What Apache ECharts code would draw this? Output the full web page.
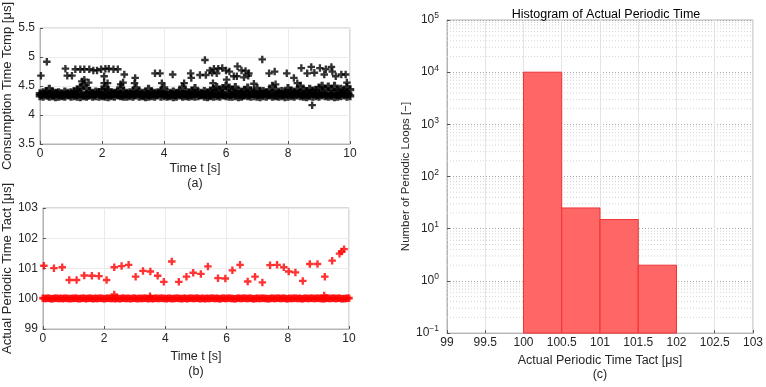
<!DOCTYPE html>
<html><head><meta charset="utf-8">
<script src="https://cdn.jsdelivr.net/npm/echarts@6.0.0/dist/echarts.min.js"></script>
<style>html,body{margin:0;padding:0;background:#fff}#c{width:766px;height:387px}</style>
</head><body><div id="c"></div>
<script>
// ---------- (a) Consumption time Tcmp [us] ----------
const bandStep = 0.1; // sampling step of the dense band rows [s]
const tcmpBandLow = [4.33,4.32,4.34,4.32,4.33,4.31,4.32,4.33,4.32,4.34, 4.32,4.33,4.32,4.31,4.33,4.32,4.34,4.32,4.33,4.32,
  4.33,4.32,4.31,4.33,4.32,4.34,4.33,4.32,4.32,4.33, 4.32,4.34,4.32,4.33,4.31,4.32,4.33,4.32,4.34,4.32,
  4.33,4.32,4.33,4.31,4.32,4.34,4.32,4.33,4.32,4.33, 4.32,4.33,4.34,4.32,4.31,4.33,4.32,4.33,4.32,4.34,
  4.33,4.32,4.32,4.33,4.31,4.32,4.34,4.33,4.32,4.33, 4.32,4.31,4.33,4.32,4.34,4.32,4.33,4.32,4.33,4.31,
  4.32,4.33,4.32,4.34,4.33,4.32,4.31,4.33,4.32,4.33, 4.32,4.34,4.33,4.32,4.33,4.31,4.32,4.33,4.34,4.32, 4.33];
const tcmpBandMid = [4.35,4.36,4.34,4.36,4.35,4.37,4.35,4.34,4.36,4.35, 4.36,4.35,4.37,4.36,4.35,4.34,4.36,4.35,4.37,4.35,
  4.34,4.36,4.35,4.36,4.37,4.35,4.34,4.36,4.35,4.36, 4.35,4.37,4.35,4.34,4.36,4.35,4.36,4.35,4.37,4.36,
  4.35,4.34,4.36,4.35,4.37,4.35,4.36,4.34,4.35,4.36, 4.37,4.35,4.36,4.35,4.34,4.36,4.37,4.35,4.36,4.35,
  4.36,4.35,4.37,4.36,4.35,4.34,4.36,4.35,4.37,4.36, 4.35,4.36,4.37,4.35,4.36,4.35,4.34,4.36,4.35,4.37,
  4.36,4.35,4.36,4.37,4.35,4.36,4.35,4.37,4.36,4.35, 4.36,4.37,4.35,4.36,4.37,4.36,4.35,4.37,4.36,4.36];
const tcmpBandHigh = [4.37,4.39,4.41,4.45,4.40,4.38,4.39,4.37,4.40,4.38, 4.39,4.41,4.44,4.47,4.52,4.46,4.41,4.38,4.40,4.39,
  4.44,4.46,4.43,4.39,4.38,4.40,4.47,4.41,4.38,4.39, 4.41,4.47,4.40,4.38,4.39,4.45,4.40,4.38,4.39,4.41,
  4.47,4.39,4.38,4.40,4.38,4.41,4.48,4.40,4.39,4.42, 4.46,4.39,4.38,4.41,4.39,4.42,4.45,4.48,4.43,4.46,
  4.50,4.47,4.43,4.48,4.41,4.40,4.43,4.47,4.41,4.39, 4.46,4.40,4.41,4.39,4.43,4.50,4.42,4.40,4.41,4.39,
  4.46,4.42,4.40,4.43,4.50,4.43,4.41,4.45,4.42,4.43, 4.47,4.50,4.45,4.49,4.44,4.50,4.43,4.45,4.42,4.48, 4.44];
const tcmpOutT = [0.03,0.22,0.82,0.88,1.03,1.14,1.30,1.43,1.59,1.72,1.84,1.97,2.07,2.11,2.22,2.37,2.51,2.72,3.07,1.43,2.07,2.18,2.60,
  3.71,3.87,4.28,4.86,4.88,5.16,5.35,5.32,5.48,5.61,5.75,5.88,6.00,6.11,5.55,5.70,6.37,6.50,6.25,6.35,6.58,6.02,6.72,
  7.17,6.63,6.74,7.39,7.57,7.96,8.19,8.43,8.75,8.62,8.85,9.03,9.22,9.40,9.17,9.43,9.54,9.72,9.86,8.78,
  1.35,3.93,4.65,5.58,6.90,7.60,8.30,9.90,2.68,3.05,1.57];
const tcmpOutV = [4.68,4.92,4.80,4.68,4.68,4.79,4.79,4.79,4.79,4.77,4.77,4.79,4.67,4.80,4.80,4.79,4.79,4.70,4.64,4.61,4.55,4.55,4.53,
  4.72,4.72,4.70,4.72,4.64,4.69,4.69,4.95,4.77,4.80,4.80,4.81,4.77,4.75,4.73,4.72,4.84,4.77,4.67,4.67,4.65,4.61,4.68,
  4.96,4.76,4.72,4.72,4.75,4.72,4.64,4.81,4.83,4.72,4.73,4.81,4.79,4.83,4.70,4.75,4.67,4.70,4.70,4.17,
  4.58,4.55,4.55,4.55,4.54,4.53,4.55,4.56,4.56,4.55,4.56];

// ---------- (b) Actual periodic time Tact [us] ----------
const tactBandA = [100.02,100.01,100.02,100.00,100.02,100.01,100.02,100.02,100.01,100.00, 100.01,100.02,100.01,100.02,100.00,100.02,100.01,100.02,100.01,100.02,
  100.00,100.02,100.01,100.02,100.01,100.00,100.02,100.01,100.02,100.01, 100.02,100.00,100.01,100.02,100.01,100.02,100.00,100.02,100.01,100.02,
  100.01,100.02,100.00,100.01,100.02,100.01,100.02,100.00,100.02,100.01, 100.02,100.01,100.02,100.00,100.01,100.02,100.01,100.02,100.00,100.02,
  100.01,100.02,100.01,100.00,100.02,100.01,100.02,100.01,100.02,100.00, 100.02,100.01,100.02,100.01,100.00,100.02,100.01,100.02,100.01,100.02,
  100.00,100.01,100.02,100.01,100.02,100.00,100.02,100.01,100.02,100.01, 100.02,100.01,100.00,100.02,100.01,100.02,100.01,100.02,100.00,100.01, 100.02];
const tactBandB = [100.01,100.02,100.00,100.01,100.02,100.01,100.00,100.02,100.01,100.02, 100.02,100.00,100.01,100.02,100.01,100.02,100.00,100.01,100.02,100.01,
  100.01,100.02,100.01,100.00,100.02,100.01,100.02,100.01,100.00,100.02, 100.01,100.02,100.01,100.02,100.00,100.01,100.02,100.01,100.02,100.01,
  100.00,100.02,100.01,100.02,100.01,100.00,100.02,100.01,100.02,100.01, 100.02,100.00,100.01,100.02,100.01,100.02,100.01,100.00,100.02,100.01,
  100.02,100.01,100.00,100.02,100.01,100.02,100.01,100.02,100.00,100.01, 100.01,100.02,100.01,100.00,100.02,100.01,100.02,100.01,100.02,100.00,
  100.02,100.01,100.02,100.01,100.00,100.02,100.01,100.02,100.01,100.02, 100.01,100.00,100.02,100.01,100.02,100.01,100.02,100.00,100.01,100.02];
const tactOutT = [0.03,0.36,0.63,0.86,1.10,1.35,1.60,1.83,2.08,2.33,2.57,2.80,3.03,3.27,3.51,3.75,3.95,4.21,4.44,4.69,4.91,5.16,5.39,
  5.72,5.96,6.19,6.44,6.69,6.93,7.17,7.42,7.65,7.87,8.03,8.25,8.49,8.72,8.97,9.21,9.45,9.69,9.76,9.84, 2.33,9.19,3.50];
const tactOutV = [101.09,101.01,101.04,100.62,100.62,100.77,100.76,100.75,100.62,101.04,101.08,101.12,100.73,100.92,100.90,100.76,100.56,101.23,100.56,100.73,100.86,100.82,101.07,
  100.68,100.67,100.94,101.12,100.57,100.73,100.54,101.11,101.12,101.04,100.90,100.87,100.59,101.15,101.15,100.73,101.26,101.49,101.56,101.64, 100.14,100.11,100.08];

// ---------- (c) Histogram ----------
const histEdgesLo = [100, 100.5, 101, 101.5];
const histEdgesHi = [100.5, 101, 101.5, 102];
const histCounts  = [10000, 25, 15, 2];
const histBase = 0.1;
const xTicksAB = [0, 2, 4, 6, 8, 10];
const xTicksC = [99, 99.5, 100, 100.5, 101, 101.5, 102, 102.5, 103];

// ---------- build ----------
const plus = 'path://M2.75,0H5.25V2.75H8V5.25H5.25V8H2.75V5.25H0V2.75H2.75Z';
const plusBold = 'path://M2.5,0H5.5V2.5H8V5.5H5.5V8H2.5V5.5H0V2.5H2.5Z';
function bandPts(vals, offset) { return vals.map((v, i) => [+(offset + i * bandStep).toFixed(3), v]); }
const tcmpBand = bandPts(tcmpBandLow, 0).concat(bandPts(tcmpBandMid, bandStep / 2), bandPts(tcmpBandHigh, 0));
const tcmpOut = tcmpOutT.map((t, i) => [t, tcmpOutV[i]]);
const tactBand = bandPts(tactBandA, 0).concat(bandPts(tactBandB, bandStep / 2));
const tactOut = tactOutT.map((t, i) => [t, tactOutV[i]]);
const histData = histCounts.map((c, i) => [histEdgesLo[i], histEdgesHi[i], c]);
const minorVals = [];
for (let e = -1; e < 5; e++) for (let m = 2; m <= 9; m++) minorVals.push([99, m * Math.pow(10, e)]);

const FONT = '"Liberation Sans", Arial, sans-serif';
const AX = '#b4b4b4', TICK = '#555', GRID = '#ebebeb', TXT = '#262626';
function xAxisLin(gi, min, max, interval, name, gap, lh) {
  return { gridIndex: gi, type: 'value', min, max, interval,
    axisLine: { lineStyle: { color: AX } }, axisTick: { inside: true, length: 3, lineStyle: { color: TICK } },
    axisLabel: { color: TXT, fontSize: 12, fontFamily: FONT, margin: 4 },
    splitLine: { show: true, lineStyle: { color: GRID } },
    name, nameLocation: 'middle', nameGap: gap,
    nameTextStyle: { color: TXT, fontSize: 12.5, fontFamily: FONT, lineHeight: lh, verticalAlign: 'top' } };
}
function yAxisLin(gi, min, max, interval, name, gap, fs) {
  return { gridIndex: gi, type: 'value', min, max, interval,
    axisLine: { show: true, lineStyle: { color: AX } }, axisTick: { show: true, inside: true, length: 3, lineStyle: { color: TICK } },
    axisLabel: { color: TXT, fontSize: 12, fontFamily: FONT, margin: 5 },
    splitLine: { show: true, lineStyle: { color: GRID } },
    name, nameLocation: 'middle', nameGap: gap, nameRotate: 90,
    nameTextStyle: { color: TXT, fontSize: fs, fontFamily: FONT } };
}

const option = {
  animation: false,
  backgroundColor: '#fff',
  title: { text: 'Histogram of Actual Periodic Time', left: 601, top: 3, textAlign: 'center',
    textStyle: { fontSize: 12.5, fontWeight: 'normal', color: '#000', fontFamily: FONT } },
  grid: [
    { left: 40, top: 19, width: 310, height: 125, show: true, borderColor: AX, borderWidth: 1 },
    { left: 40, top: 208, width: 309, height: 121, show: true, borderColor: AX, borderWidth: 1 },
    { left: 447, top: 20, width: 310, height: 324, show: true, borderColor: AX, borderWidth: 1 }
  ],
  xAxis: [
    xAxisLin(0, 0, 10, 2, 'Time t [s]\n(a)', 16, 15),
    xAxisLin(1, 0, 10, 2, 'Time t [s]\n(b)', 20, 15),
    Object.assign(xAxisLin(2, 99, 103, 0.5, 'Actual Periodic Time Tact [μs]\n(c)', 17, 14),
      { splitLine: { show: true, lineStyle: { color: '#e4e4e4' } } })
  ],
  yAxis: [
    yAxisLin(0, 3.5, 5.5, 0.5, 'Consumption Time Tcmp [μs]', 22, 13),
    yAxisLin(1, 99, 103, 1, 'Actual Periodic Time Tact [μs]', 20, 13),
    { gridIndex: 2, type: 'log', logBase: 10, min: 0.1, max: 100000,
      axisLine: { show: true, lineStyle: { color: AX } }, axisTick: { show: true, inside: true, length: 3, lineStyle: { color: TICK } },
      axisLabel: { margin: 8, fontFamily: FONT, color: TXT,
        formatter: v => { const e = Math.round(Math.log10(v)); return '{b|10}{e|' + (e < 0 ? '−' + (-e) : e) + '}'; },
        rich: { b: { fontSize: 12, fontFamily: FONT, color: TXT }, e: { fontSize: 8.5, fontFamily: FONT, color: TXT, padding: [0, 0, 8, 0] } } },
      splitLine: { show: true, lineStyle: { color: '#a8a8a8', type: [1, 2] } },
      name: 'Number of Periodic Loops [−]', nameLocation: 'middle', nameGap: 25, nameRotate: 90,
      nameTextStyle: { color: TXT, fontSize: 11.5, fontFamily: FONT } }
  ],
  series: [
    { type: 'scatter', xAxisIndex: 0, yAxisIndex: 0, data: tcmpBand, symbol: plusBold, symbolSize: 8.5, itemStyle: { color: '#000' }, silent: true },
    { type: 'scatter', xAxisIndex: 0, yAxisIndex: 0, data: tcmpOut, symbol: plus, symbolSize: 7.5, itemStyle: { color: '#000' }, silent: true },
    { type: 'scatter', xAxisIndex: 1, yAxisIndex: 1, data: tactBand, symbol: plusBold, symbolSize: 7.5, itemStyle: { color: '#ff0000' }, silent: true },
    { type: 'scatter', xAxisIndex: 1, yAxisIndex: 1, data: tactOut, symbol: plus, symbolSize: 7.5, itemStyle: { color: '#ff0000' }, silent: true },
    { type: 'custom', xAxisIndex: 2, yAxisIndex: 2, data: minorVals, encode: { x: 0, y: 1 }, silent: true, z: 1, clip: true,
      renderItem: (params, api) => {
        const y = api.coord([99, api.value(1)])[1]; const cs = params.coordSys;
        return { type: 'line', shape: { x1: cs.x, y1: y, x2: cs.x + cs.width, y2: y }, style: { stroke: '#d6d6d6', lineWidth: 1, lineDash: [1, 2] } };
      } },
    { type: 'custom', xAxisIndex: 2, yAxisIndex: 2, data: histData, encode: { x: [0, 1], y: 2 }, silent: true, z: 3,
      renderItem: (params, api) => {
        const p0 = api.coord([api.value(0), histBase]); const p1 = api.coord([api.value(1), api.value(2)]);
        return { type: 'rect', shape: { x: p0[0], y: p1[1], width: p1[0] - p0[0], height: p0[1] - p1[1] },
          style: { fill: '#ff6666', stroke: '#ee3333', lineWidth: 1 } };
      } }
  ]
};
echarts.init(document.getElementById('c'), null, { renderer: 'canvas' }).setOption(option);
</script></body></html>
